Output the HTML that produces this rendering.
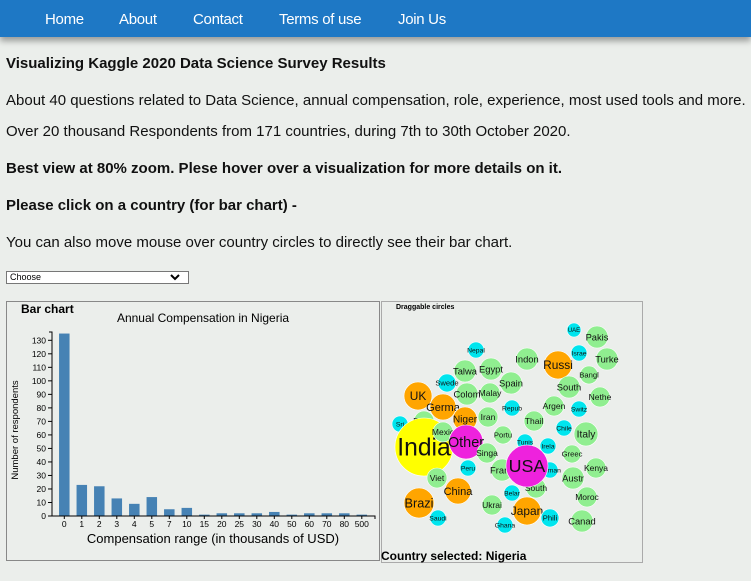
<!DOCTYPE html>
<html><head><meta charset="utf-8"><style>
body{margin:0;width:751px;height:581px;overflow:hidden;background:#ebeeeb;font-family:"Liberation Sans",Arial,sans-serif;position:relative}
.nav{position:absolute;left:0;top:0;width:751px;height:37px;background:#1e78c5;box-shadow:0 4px 6px rgba(0,0,0,0.35)}
.nav span{position:absolute;top:11px;color:#fff;font-size:15px;letter-spacing:-0.3px}
.t{position:absolute;left:6px;color:#111;white-space:nowrap}
svg text{font-family:"Liberation Sans",Arial,sans-serif}
</style></head><body>
<div class="nav">
<span style="left:45px">Home</span>
<span style="left:119px">About</span>
<span style="left:193px">Contact</span>
<span style="left:279px">Terms of use</span>
<span style="left:398px">Join Us</span>
</div>
<div class="t" style="top:55px;font-size:15px;font-weight:bold">Visualizing Kaggle 2020 Data Science Survey Results</div>
<div class="t" style="top:92px;font-size:15px">About 40 questions related to Data Science, annual compensation, role, experience, most used tools and more.</div>
<div class="t" style="top:123px;font-size:15px">Over 20 thousand Respondents from 171 countries, during 7th to 30th October 2020.</div>
<div class="t" style="top:160px;font-size:15px;font-weight:bold">Best view at 80% zoom. Plese hover over a visualization for more details on it.</div>
<div class="t" style="top:197px;font-size:15px;font-weight:bold">Please click on a country (for bar chart) -</div>
<div class="t" style="top:234px;font-size:15px">You can also move mouse over country circles to directly see their bar chart.</div>
<div style="position:absolute;left:6px;top:271px;width:181px;height:11px;border:1px solid #777;background:#fff;font-size:9px;line-height:11px;box-sizing:content-box"><span style="padding-left:3px">Choose</span><svg style="position:absolute;right:8px;top:2px" width="10" height="7"><path d="M1 1 L5 5 L9 1" stroke="#000" stroke-width="2" fill="none"/></svg></div>

<svg id="bar" style="position:absolute;left:6px;top:301px" width="375" height="261"></svg>
<svg id="bub" style="position:absolute;left:381px;top:301px" width="263" height="263"></svg>

<script>
const categories=["0","1","2","3","4","5","7","10","15","20","25","30","40","50","60","70","80","500"];
const counts=[135,23,22,13,9,14,5,6,1,2,2,2,3,1,2,2,2,1];
const yTicks=[0,10,20,30,40,50,60,70,80,90,100,110,120,130];
const NS="http://www.w3.org/2000/svg";
function mk(p,t,a){const e=document.createElementNS(NS,t);for(const k in a)e.setAttribute(k,a[k]);p.appendChild(e);return e;}
const bar=document.getElementById('bar');
const X0=46,Y0=215,yScale=v=>Y0-v*(175.7/130),step=17.5,bw=10.5;
const xC=i=>58.3+i*step;
let r=mk(bar,'rect',{x:0.5,y:0.5,width:373,height:259,fill:'none',stroke:'#888'});

let t=mk(bar,'text',{x:15,y:12,'font-size':12,'font-weight':'bold'});t.textContent='Bar chart';

t=mk(bar,'text',{x:197,y:21,'font-size':12,'text-anchor':'middle'});t.textContent='Annual Compensation in Nigeria';

counts.forEach((v,i)=>{const b=mk(bar,'rect',{x:xC(i)-bw/2,y:yScale(v),width:bw,height:Y0-yScale(v),fill:'#4682b4'});

const tl=mk(bar,'text',{x:xC(i),y:Y0+11,'font-size':8.5,'text-anchor':'middle'});tl.textContent=categories[i];

mk(bar,'line',{x1:xC(i),x2:xC(i),y1:Y0,y2:Y0+3,stroke:'#000'});});
let ax=mk(bar,'path',{d:`M${X0-3},31 H${X0} V${Y0} H369 V${Y0+3}`,fill:'none',stroke:'#000'});

yTicks.forEach(v=>{mk(bar,'line',{x1:X0-4,x2:X0,y1:yScale(v),y2:yScale(v),stroke:'#000'});
const tl=mk(bar,'text',{x:X0-6,y:yScale(v)+3,'font-size':8.5,'text-anchor':'end'});tl.textContent=v;
});
t=mk(bar,'text',{x:207,y:242,'font-size':13,'text-anchor':'middle'});t.textContent='Compensation range (in thousands of USD)';

t=mk(bar,'text',{x:0,y:0,'font-size':9.5,'text-anchor':'middle',transform:'translate(12,129) rotate(-90)'});t.textContent='Number of respondents';


const G='#90ee90',C='#00e5ee',O='#ffa500',M='#ee22dd',Y='#ffff00';
const bubbles=[["UAE",574,330,7,C],["Pakis",597,337,11,G],["Nepal",476,350,8,C],["Israe",579,353,8,C],["Turke",607,359,11,G],["Indon",527,359,11,G],["Russi",558,365,14,O],["Talwa",465,371,11,G],["Egypt",491,369,11,G],["Bangl",589,375,9,G],["Spain",511,383,11,G],["Swede",447,383,9,C],["South",569,387,11,G],["UK",418,396,14,O],["Colom",467,394,11,G],["Malay",490,393,10,G],["Nethe",600,397,10,G],["Repub",512,408,8,C],["Argen",554,406,10,G],["Switz",579,409,8,C],["Sri",400,424,8,C],["Germa",443,407,13,O],["Iran",488,417,10,G],["Thail",534,421,10,G],["Chile",564,428,8,C],["Italy",586,434,12,G],["Portu",503,435,9,G],["Tunis",525,442,8,C],["Irela",548,446,8,C],["Greec",572,454,9,G],["Kenya",596,468,10,G],["Polan",424,421,10,G],["India",424,447,29,Y],["Mexic",443,432,10,G],["Niger",465,419,12,O],["Other",466,442,17,M],["Singa",487,453,10,G],["Peru",468,468,8,C],["Franc",502,470,11,G],["Roman",550,470,8,C],["Austr",573,478,11,G],["Viet",437,478,10,G],["South",536,488,10,G],["USA",527,466,21,M],["China",458,491,13,O],["Belar",512,493,8,C],["Moroc",587,497,10,G],["Brazi",419,503,15,O],["Ukrai",492,505,10,G],["Japan",527,511,14,O],["Saudi",438,518,8,C],["Phili",550,518,9,C],["Canad",582,521,11,G],["Ghana",505,525,8,C]];
const bub=document.getElementById('bub');
r=mk(bub,'rect',{x:0.5,y:0.5,width:261,height:261,fill:'none',stroke:'#aaa'});

t=mk(bub,'text',{x:15,y:8,'font-size':7,'font-weight':'bold'});t.textContent='Draggable circles';

bubbles.forEach(b=>{const g=mk(bub,'g',{});

mk(g,'circle',{cx:b[1]-381,cy:b[2]-301,r:b[3],fill:b[4],stroke:'#fff','stroke-width':0.6});
const fs=Math.max(5,b[3]*0.85);
const tx=mk(g,'text',{x:b[1]-381,y:b[2]-301+fs*0.35,'font-size':fs,'text-anchor':'middle',fill:'#111'});tx.textContent=b[0];});
t=mk(bub,'text',{x:0,y:259,'font-size':12,'font-weight':'bold'});t.textContent='Country selected: Nigeria';

</script>
</body></html>
